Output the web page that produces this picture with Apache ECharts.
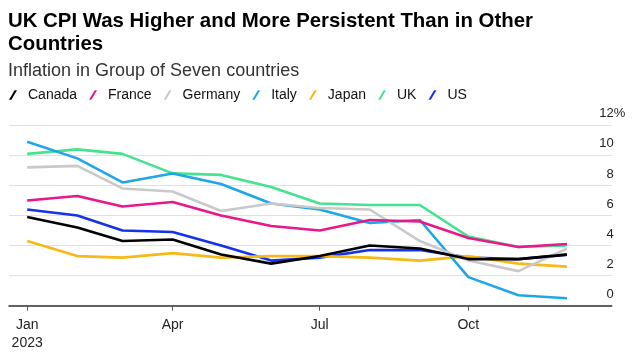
<!DOCTYPE html>
<html>
<head>
<meta charset="utf-8">
<style>
  html, body { margin: 0; padding: 0; background: #ffffff; }
  #chart { width: 636px; height: 358px; }
</style>
<script src="https://cdn.jsdelivr.net/npm/echarts@6/dist/echarts.min.js"></script>
</head>
<body>
<div id="chart"></div>
<script>
// ---- Data ----
const months = ['2023-01-01','2023-02-01','2023-03-01','2023-04-01','2023-05-01','2023-06-01',
                '2023-07-01','2023-08-01','2023-09-01','2023-10-01','2023-11-01','2023-12-01'];
const canada  = [5.9, 5.2, 4.3, 4.4, 3.4, 2.8, 3.3, 4.0, 3.8, 3.1, 3.1, 3.4];
const france  = [7.0, 7.3, 6.6, 6.9, 6.0, 5.3, 5.0, 5.7, 5.6, 4.5, 3.9, 4.1];
const germany = [9.2, 9.3, 7.8, 7.6, 6.3, 6.8, 6.5, 6.4, 4.3, 3.0, 2.3, 3.8];
const italy   = [10.9, 9.8, 8.2, 8.8, 8.1, 6.8, 6.4, 5.5, 5.7, 1.9, 0.7, 0.5];
const japan   = [4.3, 3.3, 3.2, 3.5, 3.2, 3.3, 3.3, 3.2, 3.0, 3.3, 2.8, 2.6];
const uk      = [10.1, 10.4, 10.1, 8.8, 8.7, 7.9, 6.8, 6.7, 6.7, 4.6, 3.9, 4.0];
const us      = [6.4, 6.0, 5.0, 4.9, 4.0, 3.0, 3.2, 3.7, 3.7, 3.2, 3.1, 3.4];
const yTicks  = [0, 2, 4, 6, 8, 10, 12];
const xTickDates = ['2023-01-01','2023-04-01','2023-07-01','2023-10-01'];
const xTickLabels = ['Jan\n2023','Apr','Jul','Oct'];

const titleText = 'UK CPI Was Higher and More Persistent Than in Other\nCountries';
const subtitleText = 'Inflation in Group of Seven countries';

// ---- Build ----
const ts = s => Date.parse(s + 'T00:00:00Z');
const DAY = 86400000;
const pair = arr => months.map((m, i) => [ts(m), arr[i]]);

const seriesDefs = [
  { name: 'Canada',  data: canada,  color: '#000000' },
  { name: 'France',  data: france,  color: '#e8178a' },
  { name: 'Germany', data: germany, color: '#c9c9c9' },
  { name: 'Italy',   data: italy,   color: '#1fa6ea' },
  { name: 'Japan',   data: japan,   color: '#f7b917' },
  { name: 'UK',      data: uk,      color: '#45e38f' },
  { name: 'US',      data: us,      color: '#1433e6' }
];

// draw order: later series on top (Canada on top)
const drawOrder = seriesDefs.slice().reverse();
const tickTs = xTickDates.map(ts);

const chart = echarts.init(document.getElementById('chart'), null, { renderer: 'canvas' });
const option = {
  animation: false,
  backgroundColor: '#ffffff',
  title: [
    {
      text: titleText,
      left: 8, top: 10, padding: 0,
      textStyle: { fontFamily: 'Liberation Sans', fontWeight: 'bold', fontSize: 20.4, lineHeight: 23, color: '#000000' }
    },
    {
      text: subtitleText,
      left: 8, top: 61, padding: 0,
      textStyle: { fontFamily: 'Liberation Sans', fontWeight: 'normal', fontSize: 18, lineHeight: 20, color: '#333333' }
    }
  ],
  legend: {
    data: seriesDefs.map(s => s.name),
    left: 9, top: 88, padding: 0,
    icon: 'path://M0,10 L6,0 L8.5,0 L2.5,10 Z',
    itemWidth: 8, itemHeight: 10,
    itemGap: 12,
    textStyle: { fontFamily: 'Liberation Sans', fontSize: 14, color: '#111111', padding: [0, 0, 0, 6] }
  },
  grid: { left: 9, right: 24.3, top: 125.3, bottom: 52.3, containLabel: false },
  xAxis: {
    type: 'value',
    min: ts(months[0]) - 11.26 * DAY,
    max: ts(months[months.length - 1]) + 27.7 * DAY,
    axisLine: { show: true, lineStyle: { color: '#333333', width: 1.5 } },
    axisTick: { show: true, length: 5, lineStyle: { color: '#555555', width: 1 }, customValues: tickTs },
    axisLabel: {
      customValues: tickTs,
      margin: 11,
      fontFamily: 'Liberation Sans', fontSize: 14, lineHeight: 17.5, color: '#222222',
      formatter: function (v) {
        const i = tickTs.indexOf(v);
        return i >= 0 ? xTickLabels[i] : '';
      }
    },
    splitLine: { show: false }
  },
  yAxis: {
    type: 'value',
    position: 'right',
    min: yTicks[0], max: yTicks[yTicks.length - 1], interval: 2,
    axisLine: { show: false },
    axisTick: { show: false },
    splitLine: { show: true, lineStyle: { color: '#e1e1e1', width: 1.2 } },
    axisLabel: {
      inside: true,
      margin: -13.5,
      verticalAlign: 'bottom',
      padding: [0, 0, 5, 0],
      fontFamily: 'Liberation Sans', fontSize: 13, color: '#222222',
      formatter: function (v) {
        return v === yTicks[yTicks.length - 1] ? '{n|' + v + '}{p|%}' : '{n|' + v + '}{h|%}';
      },
      rich: {
        n: { fontFamily: 'Liberation Sans', fontSize: 13, color: '#222222' },
        p: { fontFamily: 'Liberation Sans', fontSize: 13, color: '#222222' },
        h: { fontFamily: 'Liberation Sans', fontSize: 13, color: 'rgba(0,0,0,0)' }
      }
    }
  },
  series: drawOrder.map(s => ({
    name: s.name,
    type: 'line',
    data: pair(s.data),
    showSymbol: false,
    symbol: 'none',
    itemStyle: { color: s.color },
    lineStyle: { color: s.color, width: 2.6 },
    emphasis: { disabled: true }
  }))
};
chart.setOption(option);
</script>
</body>
</html>
